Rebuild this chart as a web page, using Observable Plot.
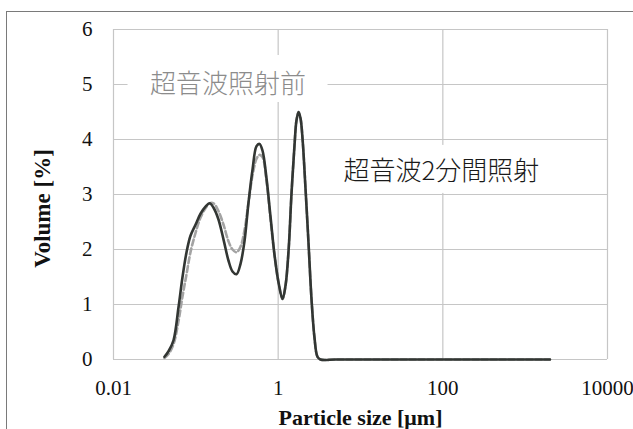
<!DOCTYPE html>
<html>
<head>
<meta charset="utf-8">
<script src="https://cdn.jsdelivr.net/npm/d3@7"></script>
<script src="https://cdn.jsdelivr.net/npm/@observablehq/plot@0.6"></script>
<style>
  html, body { margin: 0; padding: 0; background: #fff; }
  #wrap { position: relative; width: 633px; height: 429px; overflow: hidden; }
  #frame { position: absolute; left: 6px; top: 11px; width: 700px; height: 500px;
           border-top: 1.5px solid #7a7a7a; border-left: 1.5px solid #7a7a7a; }
  #chart { position: absolute; left: 0; top: 0; }
</style>
</head>
<body>
<div id="wrap"><div id="frame"></div><div id="chart"></div></div>
<script>
// Particle size bins (μm)
const sizes = [0.0416, 0.0466, 0.0536, 0.0616, 0.0689, 0.0771, 0.0861, 0.0991, 0.114, 0.131,
               0.147, 0.164, 0.188, 0.217, 0.249, 0.279, 0.312, 0.349, 0.390, 0.436,
               0.488, 0.546, 0.593, 0.645, 0.721, 0.807, 0.903, 1.01, 1.13, 1.23,
               1.34, 1.45, 1.58, 1.67, 1.77, 1.87, 1.98, 2.15, 2.34, 2.54,
               2.76, 3.00, 3.26, 5, 10, 50, 100, 500, 1000, 2000];
// Volume % after 2 min ultrasonic irradiation (solid)
const after2min = [0.05, 0.15, 0.35, 0.95, 1.50, 1.95, 2.25, 2.45, 2.65, 2.78,
                   2.84, 2.76, 2.55, 2.18, 1.80, 1.60, 1.55, 1.74, 2.15, 2.85,
                   3.45, 3.88, 3.92, 3.80, 3.30, 2.60, 1.90, 1.40, 1.10, 1.35,
                   2.00, 3.00, 3.90, 4.35, 4.50, 4.38, 4.00, 3.10, 2.10, 1.10,
                   0.40, 0.05, 0, 0, 0, 0, 0, 0, 0, 0];
// Volume % before ultrasonic irradiation (dashed)
const before = [0.03, 0.10, 0.28, 0.70, 1.15, 1.55, 1.95, 2.30, 2.58, 2.75,
                2.84, 2.84, 2.70, 2.45, 2.15, 2.00, 1.95, 2.05, 2.35, 2.85,
                3.35, 3.65, 3.72, 3.68, 3.25, 2.55, 1.90, 1.40, 1.10, 1.35,
                2.00, 3.00, 3.90, 4.35, 4.50, 4.38, 4.00, 3.10, 2.10, 1.10,
                0.40, 0.05, 0, 0, 0, 0, 0, 0, 0, 0];
const xTicks = [0.01, 1, 100, 10000];
const yTicks = [0, 1, 2, 3, 4, 5, 6];
const labelBefore = "超音波照射前";
const labelAfter = "超音波2分間照射";
const xTitle = "Particle size [μm]";
const yTitle = "Volume [%]";

const solidData = sizes.map((s, i) => ({size: s, v: after2min[i]}));
const dashedData = sizes.map((s, i) => ({size: s, v: before[i]}));

const cjk = "'Noto Sans CJK JP', 'Noto Sans CJK SC', sans-serif";

const plot = Plot.plot({
  width: 633, height: 429,
  marginLeft: 113, marginRight: 26, marginTop: 29, marginBottom: 70,
  x: {type: "log", domain: [0.01, 10000]},
  y: {domain: [0, 6]},
  style: {fontFamily: "'Liberation Serif', 'Times New Roman', serif", fontSize: "21px", color: "#111", background: "transparent"},
  marks: [
    Plot.gridY(yTicks, {stroke: "#c6c6c6", strokeOpacity: 1, strokeWidth: 1.2}),
    Plot.gridX(xTicks, {stroke: "#c6c6c6", strokeOpacity: 1, strokeWidth: 1.2}),
    Plot.rect([labelBefore], {x1: 0.246, x2: 0.246, y1: 5, y2: 5, fill: "white",
      insetLeft: -100, insetRight: -100, insetTop: -29, insetBottom: -18}),
    Plot.rect([labelAfter], {x1: 96, x2: 96, y1: 3.42, y2: 3.42, fill: "white",
      insetLeft: -118, insetRight: -118, insetTop: -26, insetBottom: -22}),
    Plot.line(dashedData, {x: "size", y: "v", stroke: "#a3a3a3", strokeWidth: 2.6,
      strokeDasharray: "6,3", curve: "catmull-rom"}),
    Plot.line(solidData, {x: "size", y: "v", stroke: "#323633", strokeWidth: 2.6, curve: "catmull-rom"}),
    Plot.text([labelBefore], {x: 0.246, y: 5, text: d => d, fontFamily: cjk, fontWeight: 300,
      fontSize: 26, fill: "#8c8c8c", letterSpacing: "2px"}),
    Plot.text([labelAfter], {x: 96, y: 3.42, text: d => d, fontFamily: cjk, fontWeight: 300,
      fontSize: 26, fill: "#1a1a1a", letterSpacing: "1px"}),
    Plot.axisY({ticks: yTicks, tickSize: 0, tickPadding: 21, label: null, tickFormat: d => String(d)}),
    Plot.axisX({ticks: xTicks, tickSize: 0, tickPadding: 21, label: null,
      tickFormat: d => d < 1 ? d.toFixed(2) : String(d)}),
    Plot.text([xTitle], {frameAnchor: "bottom", textAnchor: "middle", lineAnchor: "middle", dy: 58,
      fontWeight: "bold", fontSize: 22, fill: "#111", text: d => d, letterSpacing: "0.3px"}),
    Plot.text([yTitle], {frameAnchor: "left", textAnchor: "middle", lineAnchor: "middle", dx: -71, dy: 14,
      rotate: -90, fontWeight: "bold", fontSize: 23, fill: "#111", text: d => d})
  ]
});
document.getElementById("chart").appendChild(plot);
</script>
</body>
</html>
